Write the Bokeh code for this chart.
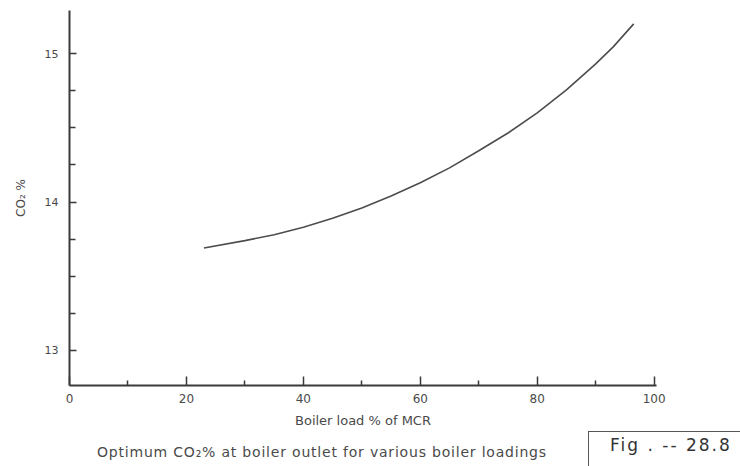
from bokeh.plotting import figure
from bokeh.models import Range1d, FixedTicker, Div
from bokeh.layouts import column
from bokeh.embed import file_html
from bokeh.resources import INLINE

# ---- data ----
load_pct = [23, 30, 35, 40, 45, 50, 55, 60, 65, 70, 75, 80, 85, 90, 93, 96.5]
co2_pct = [13.69, 13.74, 13.78, 13.83, 13.89, 13.96, 14.04, 14.13, 14.23, 14.345,
           14.465, 14.60, 14.755, 14.93, 15.045, 15.20]

x_major_ticks = [0, 20, 40, 60, 80, 100]
x_minor_ticks = [10, 30, 50, 70, 90]
y_major_ticks = [13, 14, 15]
y_minor_ticks = [13.25, 13.5, 13.75, 14.25, 14.5, 14.75]

x_title = "Boiler load % of MCR"
y_title = "CO\u2082 %"
caption = "Optimum CO\u2082% at boiler outlet for various boiler loadings"
fig_tag = "Fig . -- 28.8"

FONT = "DejaVu Sans"
AXIS_COL = "#3a3a3a"
TEXT_COL = "#4a4a4a"

p = figure(width=740, height=431, output_backend="svg", toolbar_location=None,
           x_range=Range1d(0, 100.4), y_range=Range1d(12.764, 15.29),
           min_border_left=69, min_border_right=84, min_border_top=10,
           min_border_bottom=46)
p.outline_line_color = None
p.xgrid.grid_line_color = None
p.ygrid.grid_line_color = None
p.background_fill_color = "white"
p.border_fill_color = "white"

p.line(load_pct, co2_pct, line_color="#4d4d4d", line_width=1.6)

# x axis
xa = p.xaxis[0]
xa.ticker = FixedTicker(ticks=x_major_ticks, minor_ticks=x_minor_ticks)
xa.axis_line_color = AXIS_COL
xa.axis_line_width = 2
xa.major_tick_line_color = AXIS_COL
xa.major_tick_line_width = 1.5
xa.major_tick_in = 9
xa.major_tick_out = 0
xa.minor_tick_line_color = AXIS_COL
xa.minor_tick_line_width = 1.5
xa.minor_tick_in = 5
xa.minor_tick_out = 0
xa.major_label_standoff = 8
xa.major_label_text_font = FONT
xa.major_label_text_font_size = "12px"
xa.major_label_text_color = TEXT_COL
xa.axis_label = x_title
xa.axis_label_text_font = FONT
xa.axis_label_text_font_style = "normal"
xa.axis_label_text_font_size = "13px"
xa.axis_label_text_color = TEXT_COL
xa.axis_label_standoff = 7

# y axis
ya = p.yaxis[0]
ya.ticker = FixedTicker(ticks=y_major_ticks, minor_ticks=y_minor_ticks)
ya.axis_line_color = AXIS_COL
ya.axis_line_width = 2
ya.major_tick_line_color = AXIS_COL
ya.major_tick_line_width = 1.5
ya.major_tick_in = 7
ya.major_tick_out = 0
ya.minor_tick_line_color = AXIS_COL
ya.minor_tick_line_width = 1.5
ya.minor_tick_in = 6
ya.minor_tick_out = 0
ya.major_label_standoff = 11
ya.major_label_text_font = FONT
ya.major_label_text_font_size = "11px"
ya.major_label_text_color = TEXT_COL
ya.axis_label = y_title
ya.axis_label_text_font = FONT
ya.axis_label_text_font_style = "normal"
ya.axis_label_text_font_size = "12px"
ya.axis_label_text_color = TEXT_COL
ya.axis_label_standoff = 14

# ---- caption strip below the chart ----
strip_html = (
    f'<div style="position:relative;width:740px;height:35px;overflow:hidden;'
    f'font-family:\'{FONT}\';background:white;">'
    f'<span style="position:absolute;left:97px;top:12px;line-height:18px;'
    f'font-size:14px;letter-spacing:0.8px;color:{TEXT_COL};white-space:nowrap;">{caption}</span>'
    f'<div style="position:absolute;left:588px;top:0px;width:152px;height:35px;'
    f'border-left:1.3px solid #555;border-top:1.3px solid #555;box-sizing:border-box;">'
    f'<span style="position:absolute;left:21px;top:3px;line-height:20px;'
    f'font-size:17px;letter-spacing:2px;color:#333;white-space:nowrap;">{fig_tag}</span>'
    f'</div></div>'
)
strip = Div(text=strip_html, width=740, height=35, margin=0)

layout = column(p, strip, spacing=0)
open("out.html", "w").write(file_html(layout, INLINE))
